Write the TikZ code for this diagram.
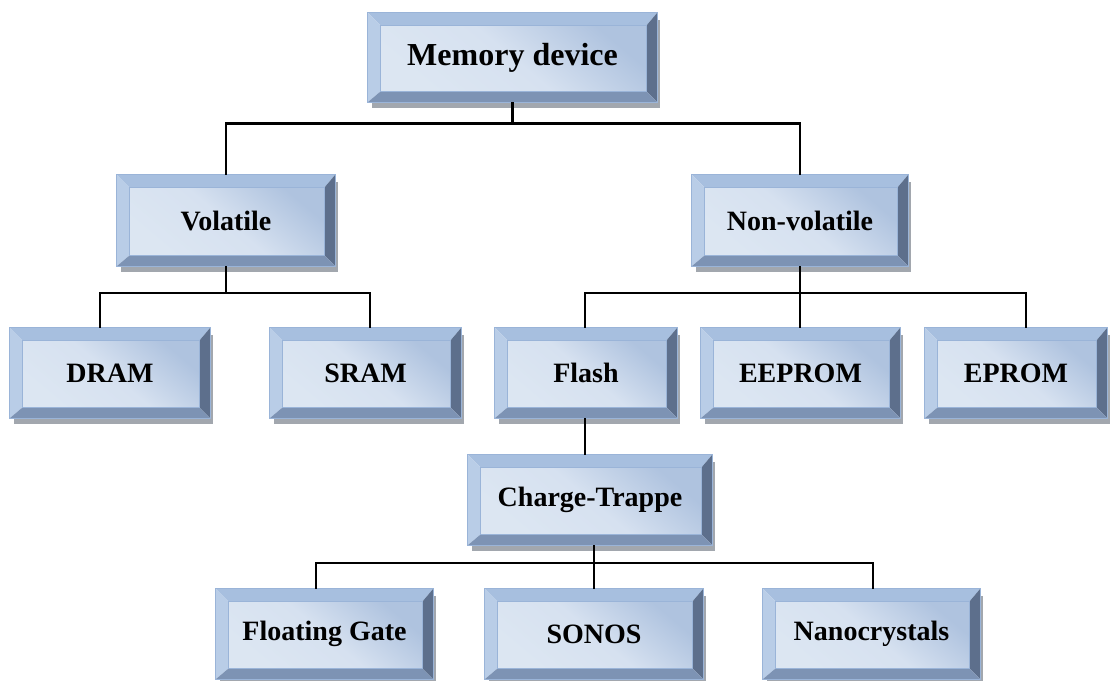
\documentclass[tikz,border=0pt]{standalone}
\usepackage{fontspec}
\setmainfont{Liberation Serif}
\usetikzlibrary{calc,backgrounds}
\definecolor{topc}{HTML}{A7BFDF}
\definecolor{leftc}{HTML}{B9CDE7}
\definecolor{rightc}{HTML}{5D6F8C}
\definecolor{botc}{HTML}{7D93B4}
\definecolor{faceA}{HTML}{AFC3DF}
\definecolor{faceB}{HTML}{D6E1F0}
\definecolor{faceC}{HTML}{DCE6F2}
\definecolor{edgec}{HTML}{9AB4D8}
\definecolor{shadc}{HTML}{A2A7AE}
\tikzset{
  bbox/.style={inner sep=0pt, font=\bfseries\fontsize{28}{31}\selectfont},
  bigbox/.style={bbox, font=\bfseries\fontsize{32}{35}\selectfont},
  conn/.style={line width=2.6pt, black},
}
\newcommand{\bev}[1]{%
\begin{pgfonlayer}{background}
\fill[shadc] ($(#1.north east)+(0,7)$) rectangle ($(#1.south east)+(3,6)$);
\fill[shadc] ($(#1.south west)+(4,0)$) rectangle ($(#1.south east)+(3,6)$);
\coordinate (A) at (#1.north west);
\coordinate (B) at (#1.north east);
\coordinate (C) at (#1.south east);
\coordinate (D) at (#1.south west);
\coordinate (a) at ($(A)+(13,13)$);
\coordinate (b) at ($(B)+(-11,13)$);
\coordinate (c) at ($(C)+(-11,-11)$);
\coordinate (d) at ($(D)+(13,-11)$);
\fill[topc] (A) -- (B) -- (b) -- (a) -- cycle;
\fill[leftc] (A) -- (a) -- (d) -- (D) -- cycle;
\fill[rightc] (B) -- (C) -- (c) -- (b) -- cycle;
\fill[botc] (D) -- (d) -- (c) -- (C) -- cycle;
\shade[top color=faceA, bottom color=faceC, middle color=faceB, shading angle=-40] (a) rectangle (c);
\draw[edgec, line width=0.8pt] (a) rectangle (c);
\draw[edgec, line width=0.8pt] (A) rectangle (C);
\end{pgfonlayer}}
\begin{document}
\begin{tikzpicture}[x=1pt, y=-1pt]
\useasboundingbox (0,0) rectangle (1113,680);
% boxes
\node[bigbox, minimum width=289pt, minimum height=89pt] (mem) at (512.5,57.5) {Memory device};
\node[bbox, minimum width=218pt, minimum height=91pt] (vol) at (226,220.5) {Volatile};
\node[bbox, minimum width=216pt, minimum height=91pt] (nvol) at (800,220.5) {Non-volatile};
\node[bbox, minimum width=200pt, minimum height=90pt] (dram) at (110,373) {DRAM};
\node[bbox, minimum width=191pt, minimum height=90pt] (sram) at (365.5,373) {SRAM};
\node[bbox, minimum width=182pt, minimum height=90pt] (flash) at (586,373) {Flash};
\node[bbox, minimum width=199pt, minimum height=90pt] (eeprom) at (800.5,373) {EEPROM};
\node[bbox, minimum width=182pt, minimum height=90pt] (eprom) at (1016,373) {EPROM};
\node[bbox, minimum width=244pt, minimum height=90pt] (ct) at (590,500) {Charge-Trappe};
\node[bbox, minimum width=217pt, minimum height=90pt] (fg) at (324.5,634) {Floating Gate};
\node[bbox, minimum width=218pt, minimum height=90pt] (sonos) at (594,634) {SONOS};
\node[bbox, minimum width=217pt, minimum height=90pt] (nano) at (871.5,634) {Nanocrystals};
\bev{mem}\bev{vol}\bev{nvol}\bev{dram}\bev{sram}\bev{flash}\bev{eeprom}\bev{eprom}\bev{ct}\bev{fg}\bev{sonos}\bev{nano}
% junctions
\path (mem.south) ++(0,21) coordinate (j1);
\coordinate (j2) at (226,293);
\coordinate (j3) at (800,293);
\coordinate (j4) at (594,563);
% connectors
\draw[conn] (mem.south) -- (j1);
\draw[conn] (vol.north) |- (j1) -| (nvol.north);
\draw[conn] (vol.south) -- (j2);
\draw[conn] ([xshift=-10pt]dram.north) |- (j2) -| ([xshift=4.5pt]sram.north);
\draw[conn] (nvol.south) -- (j3);
\draw[conn] ([xshift=-1pt]flash.north) |- (j3) -| ([xshift=10pt]eprom.north);
\draw[conn] (j3) -- (eeprom.north -| j3);
\draw[conn] ([xshift=-1pt]flash.south) -- ([xshift=-1pt]flash.south |- ct.north);
\draw[conn] (ct.south -| j4) -- (j4);
\draw[conn] ([xshift=-8.5pt]fg.north) |- (j4) -| ([xshift=1.5pt]nano.north);
\draw[conn] (j4) -- (sonos.north);
\end{tikzpicture}
\end{document}
